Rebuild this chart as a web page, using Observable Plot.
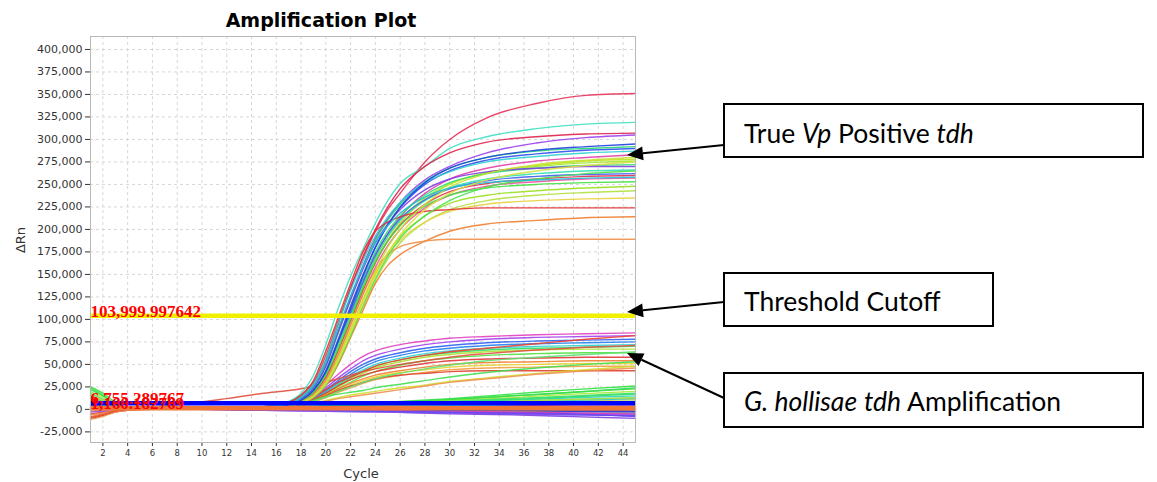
<!DOCTYPE html>
<html><head><meta charset="utf-8">
<script src="https://cdn.jsdelivr.net/npm/d3@7"></script>
<script src="https://cdn.jsdelivr.net/npm/@observablehq/plot@0.6"></script>
<style>html,body{margin:0;padding:0;background:#fff}#chart svg{display:block}</style>
</head><body><div id="chart"></div>
<script>
// ---------- DATA (values in thousands of ΔRn) ----------
const xTicks = [2,4,6,8,10,12,14,16,18,20,22,24,26,28,30,32,34,36,38,40,42,44];
const yTicks = [-25000,0,25000,50000,75000,100000,125000,150000,175000,200000,225000,250000,275000,300000,325000,350000,375000,400000];

const cyclesPositive = [1,8,15,17,18,19,20,21,22,23,24,25,26,28,30,33,37,41,45];
const positiveValues = [
  [0,1,3,8,15,30,60,98,135,168,198,222,240,275,300,324,340,349,351],
  [0,1,3,9,18,38,72,112,148,178,207,232,251,270,290,303,312,317,319],
  [0,1,3,7,14,28,55,95,135,170,200,225,245,270,285,297,303,306,307],
  [0,1,3,6,12,25,50,88,125,160,190,212,230,255,270,285,296,302,305],
  [0,1,2,6,12,24,48,85,122,158,188,210,228,253,268,280,287,290,292],
  [0,1,2,5,10,21,43,78,115,150,180,205,224,250,265,277,284,288,290],
  [0,1,3,7,14,28,56,96,132,165,193,214,230,252,264,275,281,285,287],
  [0,1,2,5,10,20,40,72,105,140,170,195,214,240,256,268,276,280,283],
  [0,1,2,4,9,18,35,64,97,132,163,188,207,233,250,263,271,276,278],
  [0,1,2,5,9,19,38,68,102,137,167,192,210,235,251,263,270,274,276],
  [0,1,2,5,10,21,42,76,110,145,175,198,215,238,252,262,268,271,272],
  [0,1,2,6,12,24,48,86,122,156,185,206,222,244,256,264,268,270,270],
  [0,1,2,5,10,20,40,72,104,138,168,192,210,232,246,256,262,265,266],
  [0,1,2,5,10,21,42,76,108,142,172,195,212,233,245,254,259,261,262],
  [0,1,2,4,9,18,36,66,99,133,163,187,205,228,242,251,256,259,260],
  [0,1,2,4,8,16,33,61,94,128,158,182,200,224,238,248,253,256,257],
  [0,1,2,4,9,19,38,68,101,135,164,187,204,226,238,246,250,252,253],
  [0,1,2,4,8,15,30,57,88,121,150,174,192,215,229,238,243,246,248],
  [0,1,2,3,7,14,27,52,82,114,143,167,185,208,222,232,238,241,243],
  [0,1,2,4,8,16,32,59,90,122,150,172,188,208,220,228,232,234,235],
  [0,1,3,8,16,32,65,102,140,175,198,208,214,220,222,224,224,224,224],
  [0,1,2,3,6,13,27,50,80,110,140,160,172,187,198,206,210,213,214],
  [0,1,2,4,8,16,32,60,95,128,155,172,181,187,189,189,189,189,189],
  [0,1,2,4,8,15,30,57,88,122,153,180,200,228,247,262,272,277,280],
  [0,1,2,3,7,14,27,52,82,115,145,170,190,215,232,247,256,262,265],
  [0,1,2,5,10,21,42,76,112,148,180,205,225,252,268,280,288,292,295],
  [0,1,3,6,13,26,52,90,126,158,185,204,218,236,246,252,255,257,258],
  [0,1,2,3,7,14,28,54,85,118,148,174,194,222,240,255,265,271,275]
];
const positiveColors = ["#e8325a","#40e0c0","#e0204a","#9a40f0","#20d870","#3050f0","#30d0d0","#e040a8","#c0e020","#a8e830","#30e070","#8040e0","#30e0b0","#4060f0","#e03050","#f050a0","#40e040","#98e020","#b0e040","#e8d040","#e03030","#f08030","#f09048","#c8e030","#50e050","#2040e0","#20c0d0","#d8e040"];

const cyclesHollisae = [1,8,12,15,17,18,19,20,21,22,23,24,26,28,30,33,37,41,45];
const hollisaeValues = [
  [0,0,1,2,5,9,16,27,39,50,59,65,72,76,79,81,83,84,85],
  [0,0,1,2,4,8,14,24,35,45,54,60,67,72,75,78,80,81,82],
  [0,0,1,2,4,7,13,22,32,42,50,56,63,68,71,74,76,77,78],
  [0,0,0,1,4,7,12,20,30,39,47,53,60,65,68,71,73,74,75],
  [0,0,0,1,3,6,11,19,28,37,44,50,57,62,65,68,70,71,72],
  [0,0,0,1,3,6,11,18,27,35,42,48,55,60,63,66,68,69,70],
  [0,0,0,1,3,6,10,17,25,33,40,46,53,58,61,64,66,67,67],
  [0,0,0,1,3,5,9,15,23,30,37,42,49,54,57,60,62,63,63],
  [0,0,0,1,3,6,11,18,26,33,38,42,47,51,54,56,57,58,58],
  [0,0,0,1,3,5,10,16,23,29,34,38,43,47,50,52,53,54,54],
  [0,0,0,1,2,5,9,15,21,27,32,36,41,44,47,49,50,51,51],
  [0,0,0,1,2,4,8,13,19,24,29,33,38,41,44,46,47,48,48],
  [0,0,0,1,3,6,10,15,21,26,30,34,38,40,42,43,43,43,43],
  [0,0,1,2,5,8,14,22,30,36,42,48,55,60,64,68,73,78,82],
  [0,5,12,18,21,23,26,30,34,38,42,45,50,54,58,62,66,69,71],
  [0,0,0,1,3,6,10,14,17,19,21,24,28,32,36,41,46,50,53],
  [0,0,0,1,2,4,7,10,13,16,18,20,24,27,31,35,40,44,48],
  [0,0,0,1,2,4,6,9,12,14,16,18,22,26,30,34,39,43,46],
  [0,0,0,1,3,5,9,14,20,25,30,34,40,45,49,54,58,61,64]
];
const hollisaeColors = ["#e040c0","#a040f0","#3060f0","#2080f0","#30d0d0","#30e060","#b0e030","#50e040","#e03838","#f08030","#e8d030","#f0a040","#e04030","#f04030","#e05040","#40e050","#d0e030","#f09050","#60e070"];

const cyclesNegative = [1,2,3,4,6,10,15,20,25,30,35,40,45];
const negativeValues = [
  [25,18,8,2,1,1,2,4,8,12,17,22,26],
  [22,15,6,1,0,1,2,4,7,11,15,19,24],
  [20,13,5,1,0,0,1,3,6,10,13,17,20],
  [18,11,4,0,0,0,1,3,6,9,12,15,18],
  [15,9,3,0,0,0,1,2,5,8,10,13,15],
  [12,7,2,0,0,0,1,2,4,7,9,11,13],
  [10,6,2,0,0,0,0,2,4,6,8,9,11],
  [8,4,1,0,0,0,0,1,2,4,5,6,7],
  [5,3,1,0,0,0,0,1,2,3,4,5,5],
  [2,1,0,0,0,0,0,0,1,2,2,3,3],
  [-2,-1,0,0,0,0,0,0,0,0,1,1,1],
  [-5,-3,-1,0,0,0,0,0,0,-1,-1,-1,-2],
  [-8,-5,-2,-1,0,0,0,0,-1,-1,-2,-2,-3],
  [-10,-7,-3,-1,0,0,0,0,0,0,0,0,0],
  [-11,-8,-3,-1,0,0,0,0,1,1,2,2,3],
  [0,0,0,0,0,0,-1,-2,-3,-5,-6,-8,-10],
  [3,2,1,0,0,0,-1,-1,-2,-4,-5,-6,-7],
  [-3,-2,-1,0,0,0,-1,-2,-3,-4,-5,-6,-6],
  [1,1,0,0,0,0,0,-1,-2,-3,-3,-4,-4],
  [6,3,1,0,0,0,0,0,-1,-2,-3,-4,-5],
  [14,9,3,0,0,0,1,3,5,8,11,14,17],
  [9,5,2,0,0,0,1,2,4,6,8,10,12],
  [16,10,3,0,0,0,0,2,4,7,9,11,13],
  [24,16,6,1,0,0,1,3,7,11,15,19,23],
  [4,2,1,0,0,0,0,0,0,-1,-1,-2,-2],
  [7,4,1,0,0,0,1,1,3,4,6,8,9],
  [-6,-4,-1,0,0,0,0,0,0,0,0,0,0],
  [-9,-6,-2,0,0,0,0,0,0,1,1,1,1],
  [11,7,2,0,0,0,0,1,2,4,5,6,7],
  [2,1,0,0,0,0,-1,-1,-2,-3,-4,-5,-8]
];
const negativeColors = ["#30e040","#20d860","#a8e830","#40e070","#30d0c0","#50e050","#e8d040","#f08030","#e03838","#f09040","#f08038","#e04040","#f07830","#e03030","#f09848","#8040e0","#3050f0","#9050f0","#4070f0","#e040b0","#30e060","#30c8d0","#b0e040","#40e040","#2040e0","#60e060","#f08040","#e05030","#30d8e0","#7040f0"];

const thresholdValues = [103999.997642, 6755.289767, 1160.182769];
const thresholdLabels = ["103,999.997642", "6,755.289767", "1,160.182769"];
const thresholdColors = ["#f0f000", "#0000ff", "#f07838"];

const titleText = "Amplification Plot";
const xLabel = "Cycle";
const yLabel = "ΔRn";

// ---------- BUILD ROWS ----------
const rows = [];
function addGroup(cycles, values, colors, tag) {
  values.forEach((vals, i) => vals.forEach((v, j) =>
    rows.push({cycle: cycles[j], value: v * 1000, id: tag + i, color: colors[i]})));
}
addGroup(cyclesNegative, negativeValues, negativeColors, "n");
addGroup(cyclesHollisae, hollisaeValues, hollisaeColors, "h");
addGroup(cyclesPositive, positiveValues, positiveColors, "p");

const fmt = d => d3.format(",")(d).replace("\u2212", "-");

const plot = Plot.plot({
  width: 1157, height: 482,
  marginLeft: 90, marginRight: 522, marginTop: 36, marginBottom: 40,
  style: {fontFamily: "DejaVu Sans, sans-serif", fontSize: "11px", color: "#333", background: "#fff"},
  x: {domain: [1, 45], ticks: xTicks, tickSize: 4, tickPadding: 3, label: null},
  y: {domain: [-36800, 414400], ticks: yTicks, tickSize: 5, tickPadding: 3, label: null, tickFormat: fmt},
  color: {type: "identity"},
  marks: [
    Plot.ruleX(xTicks, {x: d => d, stroke: "#d6d6d6", strokeDasharray: "3,3"}),
    Plot.ruleY(yTicks, {y: d => d, stroke: "#d6d6d6", strokeDasharray: "3,3"}),
    Plot.line(rows, {x: "cycle", y: "value", z: "id", stroke: "color", strokeWidth: 1.4, strokeOpacity: 0.9, curve: "monotone-x"}),
    Plot.ruleY(thresholdValues, {y: d => d, stroke: (d, i) => thresholdColors[i], strokeWidth: 4.5}),
    Plot.text(thresholdValues, {x: () => 1, y: d => d, text: (d, i) => thresholdLabels[i], textAnchor: "start", lineAnchor: "bottom", dy: 1,
      fill: "#ff0000", fontFamily: "Liberation Serif, serif", fontWeight: "bold", fontSize: 17}),
    Plot.frame({stroke: "#b8b8b8"})
  ]
});
document.getElementById("chart").appendChild(plot);

const svg = d3.select(plot);
svg.selectAll('g[aria-label^="x-axis"] text').attr("font-size", "8.5px");

// title and axis labels
svg.append("text").attr("x", 321).attr("y", 26.5).attr("text-anchor", "middle")
  .attr("font-family", "DejaVu Sans, sans-serif").attr("font-weight", "bold").attr("font-size", 19).attr("fill", "#000").text(titleText);
svg.append("text").attr("x", 361).attr("y", 478).attr("text-anchor", "middle")
  .attr("font-family", "DejaVu Sans, sans-serif").attr("font-size", 13).attr("fill", "#333").text(xLabel);
svg.append("text").attr("transform", "translate(25,240) rotate(-90)").attr("text-anchor", "middle")
  .attr("font-family", "DejaVu Sans, sans-serif").attr("font-size", 13).attr("fill", "#333").text(yLabel);

// annotation boxes and arrows (layout in pixels)
const annotations = [
  {box: [724, 104, 419, 53], textY: 143, parts: [["True ", false], ["Vp", true], [" Positive ", false], ["tdh", true]], tail: [724, 145], tip: [627, 155]},
  {box: [724, 273, 269, 53], textY: 311, parts: [["Threshold Cutoff", false]], tail: [724, 302], tip: [627, 312]},
  {box: [724, 373, 419, 54], textY: 411, parts: [["G. hollisae", true], [" ", false], ["tdh", true], [" Amplification", false]], tail: [724, 398], tip: [627, 353]}
];
const ann = svg.append("g").attr("text-anchor", "start");
annotations.forEach(a => {
  ann.append("rect").attr("x", a.box[0]).attr("y", a.box[1]).attr("width", a.box[2]).attr("height", a.box[3])
    .attr("fill", "#fff").attr("stroke", "#000").attr("stroke-width", 2);
  const t = ann.append("text").attr("x", a.box[0] + 20).attr("y", a.textY).attr("text-anchor", "start")
    .attr("font-family", "Lato, 'Open Sans', sans-serif").attr("font-size", 26.5).attr("fill", "#000");
  a.parts.forEach(([s, it]) => t.append("tspan").attr("font-style", it ? "italic" : "normal").text(s));
  const [x1, y1] = a.tail, [x2, y2] = a.tip;
  const len = Math.hypot(x2 - x1, y2 - y1), ux = (x2 - x1) / len, uy = (y2 - y1) / len;
  const L = 16, W = 7;
  const bx = x2 - ux * L, by = y2 - uy * L;
  ann.append("line").attr("x1", x1).attr("y1", y1).attr("x2", bx).attr("y2", by).attr("stroke", "#000").attr("stroke-width", 2);
  ann.append("polygon").attr("points", [[x2, y2], [bx - uy * W, by + ux * W], [bx + uy * W, by - ux * W]].map(p => p.join(",")).join(" ")).attr("fill", "#000");
});
</script>
</body></html>
